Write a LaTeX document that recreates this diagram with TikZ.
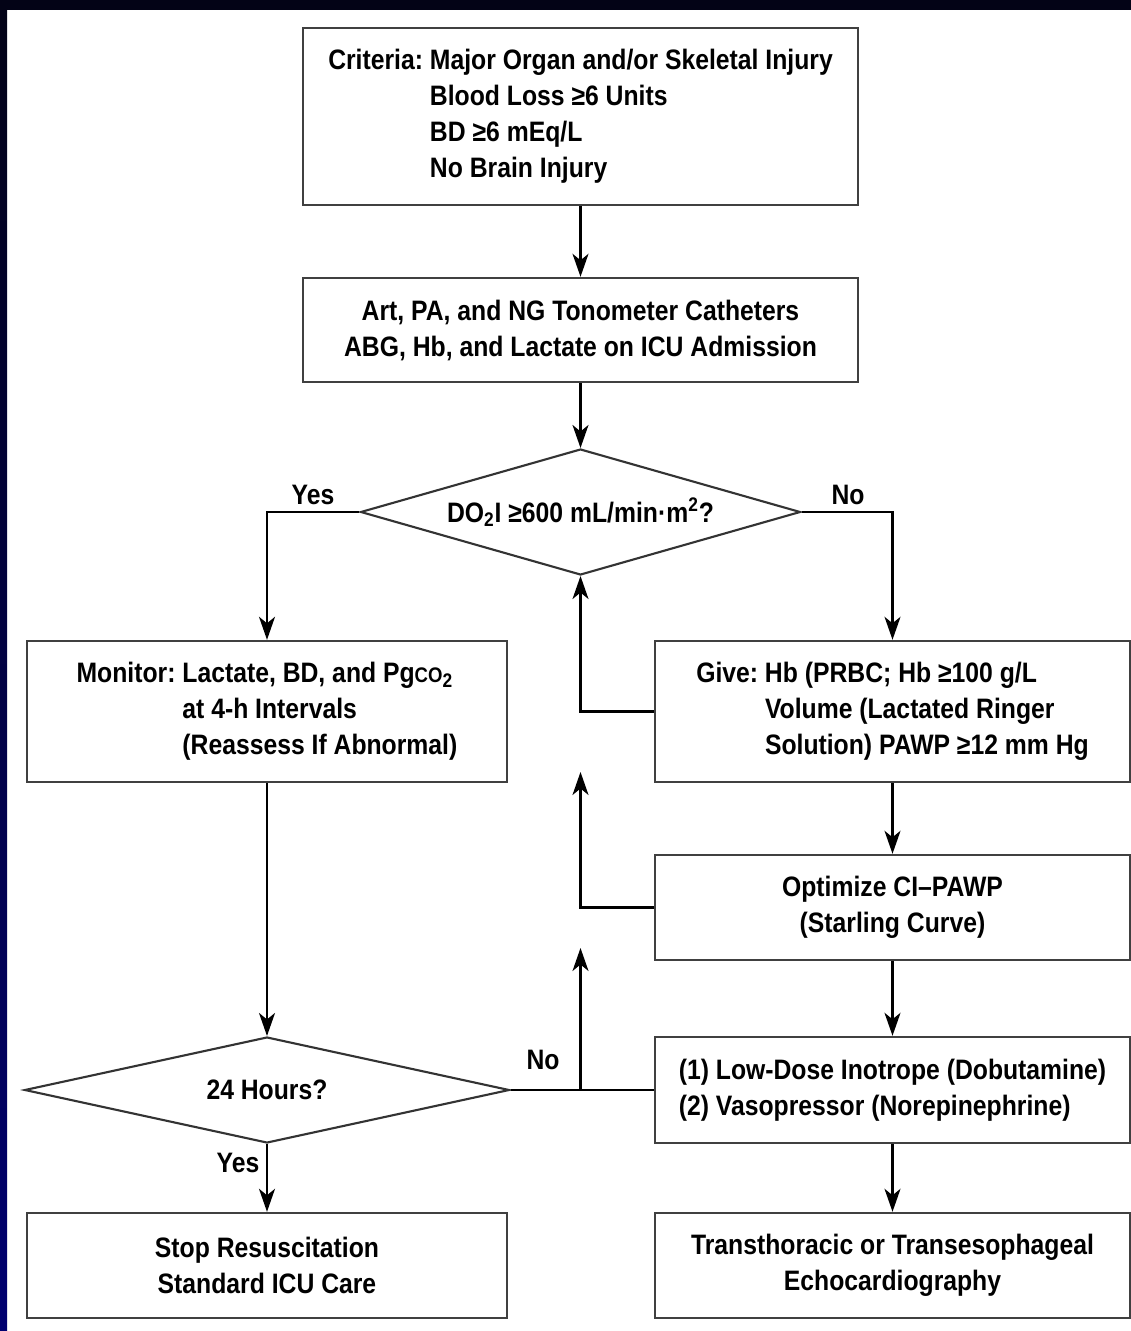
\documentclass[tikz,border=0pt]{standalone}
\usepackage{fontspec}
\setmainfont{Liberation Sans}[FakeStretch=0.88]
\usetikzlibrary{shapes.geometric,arrows.meta}

\definecolor{frametop}{RGB}{3,3,22}
\definecolor{frameside}{RGB}{0,0,112}

\tikzset{
  box/.style={draw=black!75, line width=1.4pt, inner sep=0pt, align=center,
    font=\bfseries\fontsize{16}{20.5}\selectfont},
  decision/.style={diamond, draw=black!80, line width=1.2pt, inner sep=0pt,
    aspect=3.5, font=\bfseries\fontsize{16}{20.5}\selectfont},
  tag/.style={inner sep=0pt, font=\bfseries\fontsize{16}{20.5}\selectfont},
  link/.style={line width=1.2pt},
  arrow/.style={link, -{Stealth[length=4.6mm, width=3.2mm, inset=1.3mm]}},
}

\begin{document}
\begin{tikzpicture}[x=0.02cm, y=-0.02cm]
% Page and dark frame
\useasboundingbox (0,0) rectangle (1131,1331);
\fill[white] (0,0) rectangle (1131,1331);
\shade[top color=frametop, bottom color=frameside] (0,0) rectangle (7,1331);
\fill[frametop] (0,0) rectangle (1131,10);

% Top column
\node[box, minimum width=11.1cm, minimum height=3.54cm] (crit) at (580.5,116.5)
  {\begin{tabular}{@{}l@{\ }l@{}}Criteria: & Major Organ and/or Skeletal Injury\\
   & Blood Loss ≥6 Units\\ & BD ≥6 mEq/L\\ & No Brain Injury\end{tabular}};
\node[box, minimum width=11.1cm, minimum height=2.08cm] (cath) at (580.5,330)
  {Art, PA, and NG Tonometer Catheters\\ABG, Hb, and Lactate on ICU Admission};
\node[decision, minimum width=8.8cm, minimum height=2.52cm] (do2) at (580.5,512)
  {DO\textsubscript{2}I ≥600 mL/min·m\textsuperscript{2}?};

% Left column
\node[box, minimum width=9.6cm, minimum height=2.82cm] (mon) at (267,711.5)
  {\begin{tabular}{@{}l@{\ }l@{}}Monitor: & Lactate, BD, and Pg{\fontsize{12}{12}\selectfont CO}\textsubscript{2}\\
   & at 4-h Intervals\\ & (Reassess If Abnormal)\end{tabular}};
\node[decision, minimum width=9.7cm, minimum height=2.12cm] (hrs) at (267,1090) {24 Hours?};
\node[box, minimum width=9.6cm, minimum height=2.1cm] (stop) at (267,1265.5)
  {Stop Resuscitation\\Standard ICU Care};

% Right column
\node[box, minimum width=9.5cm, minimum height=2.82cm] (give) at (892.5,711.5)
  {\begin{tabular}{@{}l@{\ }l@{}}Give: & Hb (PRBC; Hb ≥100 g/L\\
   & Volume (Lactated Ringer\\ & Solution) PAWP ≥12 mm Hg\end{tabular}};
\node[box, minimum width=9.5cm, minimum height=2.1cm] (opt) at (892.5,907.5)
  {Optimize CI–PAWP\\(Starling Curve)};
\node[box, minimum width=9.5cm, minimum height=2.12cm] (ino) at (892.5,1090)
  {\begin{tabular}{@{}l@{}}(1) Low-Dose Inotrope (Dobutamine)\\(2) Vasopressor (Norepinephrine)\end{tabular}};
\node[box, minimum width=9.5cm, minimum height=2.1cm] (echo) at (892.5,1265.5)
  {Transthoracic or Transesophageal\\Echocardiography};

% Branch labels
\node[tag] (yes1) at (313,495) {Yes};
\node[tag] (no1) at (848,495) {No};
\node[tag] (no2) at (543,1060) {No};
\node[tag] (yes2) at (238,1163) {Yes};

% Connectors
\coordinate (back2) at (580.5,772);
\coordinate (fork) at (580.5,1090);
\coordinate (back3) at (580.5,948);
\draw[arrow] (crit) -- (cath);
\draw[arrow] (cath) -- (do2);
\draw[arrow] (do2.west) -| (mon.north);
\draw[arrow] (do2.east) -| (give.north);
\draw[arrow] (give.west) -| (do2.south);
\draw[arrow] (give) -- (opt);
\draw[arrow] (opt.west) -| (back2);
\draw[arrow] (opt) -- (ino);
\draw[arrow] (ino) -- (echo);
\draw[arrow] (mon) -- (hrs);
\draw[arrow] (hrs) -- (stop);
\draw[link] (hrs.east) -- (ino.west);
\draw[arrow] (fork) -- (back3);
\end{tikzpicture}
\end{document}
